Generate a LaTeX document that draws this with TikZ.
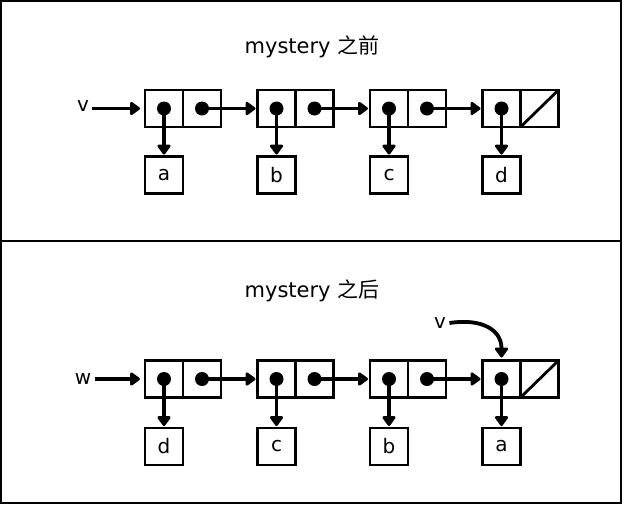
\documentclass[tikz,border=0pt]{standalone}
\usepackage{fontspec}
\setmainfont{DejaVu Sans}
\newfontfamily\cjk{Noto Sans CJK SC}
\usetikzlibrary{arrows.meta}
\begin{document}
\begin{tikzpicture}[x=1pt,y=-1pt,
  cellbox/.style={draw, line width=2.8pt, minimum width=38pt, minimum height=37pt, inner sep=0pt, outer sep=0pt},
  databox/.style={draw, line width=2.8pt, minimum width=38pt, minimum height=37pt, inner sep=0pt, outer sep=0pt, font=\fontsize{20}{22}\selectfont},
  dot/.style={circle, fill, minimum size=14pt, inner sep=0pt},
  ptr/.style={line width=3.8pt, shorten >=2pt, -{Triangle[length=11pt,width=15pt,round]}},
  entry/.style={ptr, shorten >=5pt},
  title/.style={font=\fontsize{21}{24}\selectfont},
  lbl/.style={font=\fontsize{20}{22}\selectfont}]
\useasboundingbox (0,0) rectangle (624,504);
\draw[line width=2pt] (1,1) rectangle (621,502.5);
\draw[line width=2pt] (1,240.5) -- (621,240.5);

% top panel
\node[title] (ttitle) at (312,47) {mystery {\cjk 之前}};
\foreach \i/\x/\d in {1/164/a,2/276.5/b,3/389/c,4/501.5/d}{
  \node[cellbox] (tl\i) at (\x,108.5) {};
  \node[cellbox] (tr\i) at (\x+38,108.5) {};
  \node[dot] (td\i) at (tl\i.center) {};
  \node[databox] (tdata\i) at (\x,175) {\d};
  \draw[ptr] (td\i.center) -- (tdata\i.north);
}
\foreach \i in {1,2,3}{
  \pgfmathtruncatemacro{\j}{\i+1}
  \node[dot] (tn\i) at (tr\i.center) {};
  \draw[ptr] (tn\i.center) -- (tl\j.west);
}
\draw[line width=2.8pt] (tr4.south west) -- (tr4.north east);
\node[lbl] (vt) at (83,106) {v};
\draw[entry] (vt.east |- tl1.west) -- (tl1.west);

% bottom panel
\node[title] (btitle) at (312,291) {mystery {\cjk 之后}};
\foreach \i/\x/\d in {1/164/d,2/276.5/c,3/389/b,4/501.5/a}{
  \node[cellbox] (bl\i) at (\x,379) {};
  \node[cellbox] (br\i) at (\x+38,379) {};
  \node[dot] (bd\i) at (bl\i.center) {};
  \node[databox] (bdata\i) at (\x,446.5) {\d};
  \draw[ptr] (bd\i.center) -- (bdata\i.north);
}
\foreach \i in {1,2,3}{
  \pgfmathtruncatemacro{\j}{\i+1}
  \node[dot] (bn\i) at (br\i.center) {};
  \draw[ptr] (bn\i.center) -- (bl\j.west);
}
\draw[line width=2.8pt] (br4.south west) -- (br4.north east);
\node[lbl] (wb) at (83,379) {w};
\draw[entry] (wb.east |- bl1.west) -- (bl1.west);
\node[lbl] (vb) at (440,323) {v};
\draw[ptr, shorten >=3pt] (vb.east) .. controls (482,318) and (501.5,330) .. (bl4.north);
\end{tikzpicture}
\end{document}
